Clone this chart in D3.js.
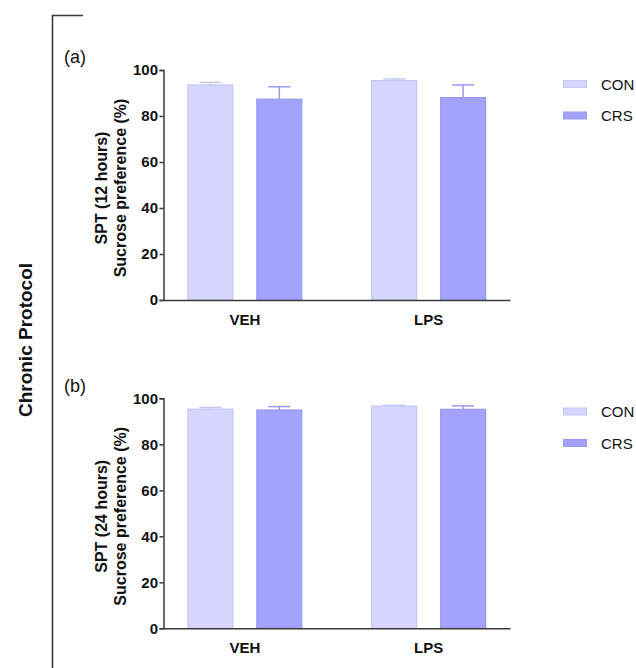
<!DOCTYPE html>
<html>
<head>
<meta charset="utf-8">
<script src="https://cdn.jsdelivr.net/npm/d3@7"></script>
<style>
  html, body { margin: 0; padding: 0; background: #fff; }
  svg { display: block; font-family: "Liberation Sans", Arial, sans-serif; }
</style>
</head>
<body>
<svg id="chart" width="636" height="668"></svg>
<script>
// Sucrose preference test, chronic protocol
const groups = ["VEH", "LPS"];
const series = ["CON", "CRS"];
const yTicks = [0, 20, 40, 60, 80, 100];

// 12-hour test: means and upper error (SEM)
const spt12Mean = { CON: [93.5, 95.4], CRS: [87.3, 88.0] };
const spt12Err  = { CON: [1.1, 0.7],  CRS: [5.4, 5.5] };

// 24-hour test
const spt24Mean = { CON: [95.3, 96.6], CRS: [94.9, 95.2] };
const spt24Err  = { CON: [0.7, 0.4],  CRS: [1.5, 1.5] };

const colors = {
  CON: { fill: "#d5d5fd", stroke: "#c6c6f7" },
  CRS: { fill: "#a3a3fd", stroke: "#9898f2" }
};
const axisColor = "#3a3a3a";
const font = "\"Liberation Sans\", Arial, sans-serif";

const svg = d3.select("#chart");

// Outer bracket and protocol title
svg.append("path")
  .attr("d", "M83,15.5 H52.5 V668")
  .attr("fill", "none")
  .attr("stroke", axisColor)
  .attr("stroke-width", 1.6);

svg.append("text")
  .attr("transform", "translate(32,340) rotate(-90)")
  .attr("text-anchor", "middle")
  .attr("font-size", 19)
  .attr("font-weight", "bold")
  .attr("fill", "#111")
  .text("Chronic Protocol");

function panel(opts) {
  const { top, bottom, letter, letterY, ylabel1, means, errs, legendY } = opts;
  const g = svg.append("g");

  const y = d3.scaleLinear().domain([0, 100]).range([bottom, top]);
  const x0 = d3.scaleBand().domain(groups).range([163.5, 510]).paddingInner(0.375).paddingOuter(0.13);
  const x1 = d3.scaleBand().domain(series).range([0, x0.bandwidth()]).paddingInner(1 / 3).paddingOuter(0);

  // bars with upper error bars
  groups.forEach((grp, gi) => {
    series.forEach(s => {
      const v = means[s][gi];
      const e = errs[s][gi];
      const bx = x0(grp) + x1(s);
      const bw = x1.bandwidth();
      const cx = bx + bw / 2;
      const c = colors[s];
      g.append("rect")
        .attr("x", bx + 0.5)
        .attr("y", y(v))
        .attr("width", bw - 1)
        .attr("height", y(0) - y(v))
        .attr("fill", c.fill)
        .attr("stroke", c.stroke)
        .attr("stroke-width", 1.2);
      const capHalf = 11;
      g.append("line")
        .attr("x1", cx).attr("x2", cx)
        .attr("y1", y(v)).attr("y2", y(v + e))
        .attr("stroke", c.stroke).attr("stroke-width", 1.5);
      g.append("line")
        .attr("x1", cx - capHalf).attr("x2", cx + capHalf)
        .attr("y1", y(v + e)).attr("y2", y(v + e))
        .attr("stroke", c.stroke).attr("stroke-width", 1.5);
    });
  });

  // y axis
  const yAxis = g.append("g")
    .attr("transform", "translate(163.5,0)")
    .call(d3.axisLeft(y).tickValues(yTicks).tickSize(4).tickPadding(1.5));
  yAxis.select(".domain").attr("stroke", axisColor).attr("stroke-width", 1.5);
  yAxis.selectAll(".tick line").attr("stroke", axisColor).attr("stroke-width", 1.5);
  yAxis.selectAll(".tick text")
    .attr("font-size", 15).attr("font-weight", "bold").attr("fill", "#111")
    .attr("font-family", font);

  // x axis
  const xAxis = g.append("g")
    .attr("transform", `translate(0,${bottom})`)
    .call(d3.axisBottom(x0).tickSize(0).tickPadding(14));
  xAxis.select(".domain").attr("stroke", axisColor).attr("stroke-width", 1.5);
  xAxis.selectAll(".tick text")
    .attr("font-size", 15).attr("font-weight", "bold").attr("fill", "#111")
    .attr("font-family", font);

  // y axis title (two lines)
  const midY = (top + bottom) / 2 + 3;
  g.append("text")
    .attr("transform", `translate(107,${midY}) rotate(-90)`)
    .attr("text-anchor", "middle")
    .attr("font-size", 16).attr("font-weight", "bold").attr("fill", "#111")
    .text(ylabel1);
  g.append("text")
    .attr("transform", `translate(126,${midY}) rotate(-90)`)
    .attr("text-anchor", "middle")
    .attr("font-size", 16).attr("font-weight", "bold").attr("fill", "#111")
    .text("Sucrose preference (%)");

  // panel letter
  g.append("text")
    .attr("x", 64).attr("y", letterY)
    .attr("font-size", 18).attr("fill", "#111")
    .text(letter);

  // legend
  series.forEach((s, i) => {
    const ly = legendY + i * 31.5;
    g.append("rect")
      .attr("x", 563.5).attr("y", ly - 3.5)
      .attr("width", 23).attr("height", 7)
      .attr("fill", colors[s].fill)
      .attr("stroke", colors[s].stroke).attr("stroke-width", 1);
    g.append("text")
      .attr("x", 601).attr("y", ly + 5.5)
      .attr("font-size", 15).attr("fill", "#111")
      .text(s);
  });
}

panel({
  top: 70, bottom: 300, letter: "(a)", letterY: 63,
  ylabel1: "SPT (12 hours)", means: spt12Mean, errs: spt12Err, legendY: 84
});

panel({
  top: 398.3, bottom: 628.3, letter: "(b)", letterY: 392,
  ylabel1: "SPT (24 hours)", means: spt24Mean, errs: spt24Err, legendY: 411.5
});
</script>
</body>
</html>
